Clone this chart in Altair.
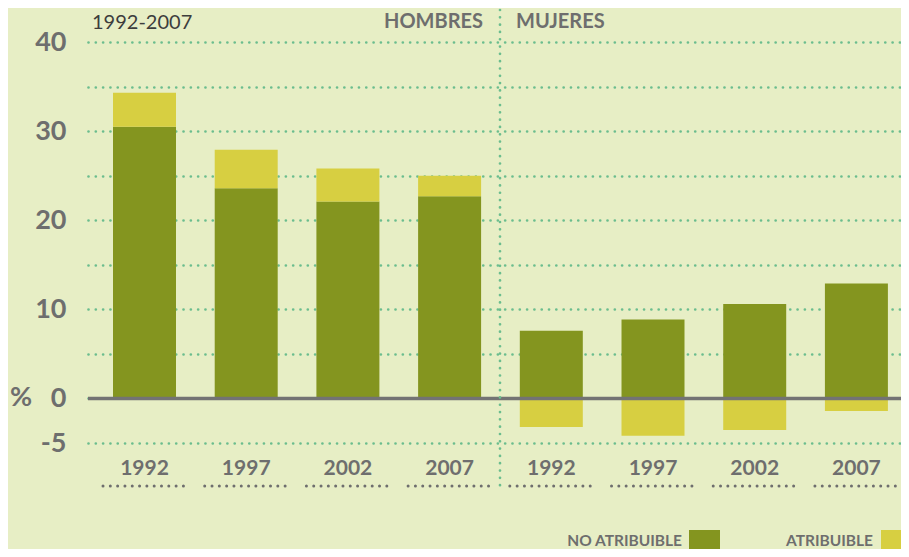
import altair as alt
import pandas as pd

# ---- data ----
groups = ["HOMBRES"] * 4 + ["MUJERES"] * 4
years = ["1992", "1997", "2002", "2007"] * 2
no_atribuible = [30.5, 23.6, 22.1, 22.7, 7.6, 8.85, 10.6, 12.9]
atribuible = [3.8, 4.3, 3.7, 2.3, -3.2, -4.2, -3.55, -1.4]
series = ["NO ATRIBUIBLE", "ATRIBUIBLE"]
y_ticks = [-5, 0, 5, 10, 15, 20, 25, 30, 35, 40]

BG = "#e7eec5"
DARK = "#84951f"
YELLOW = "#d7cf41"
GRID = "#6bbd8e"
GREY = "#6e6e6e"
FONT = "Lato"

keys = [g[0] + y for g, y in zip(groups, years)]
rows = []
for k, g, y, na, a in zip(keys, groups, years, no_atribuible, atribuible):
    rows.append({"key": k, "grupo": g, "anio": y, "serie": series[0], "valor": na, "orden": 0})
    rows.append({"key": k, "grupo": g, "anio": y, "serie": series[1], "valor": a, "orden": 1})
df = pd.DataFrame(rows)
cats = pd.DataFrame({"key": keys})
one = pd.DataFrame({"a": [0]})

W, H = 813, 401

xscale = alt.Scale(domain=keys, paddingInner=0.184, paddingOuter=0.089, align=0.829)
yscale = alt.Scale(domain=[-5, 40], nice=False, zero=False)

xaxis = alt.Axis(labelExpr="substring(datum.value, 1)", labelFont=FONT,
                 labelFontSize=21, labelFontWeight="bold", labelColor=GREY,
                 labelPadding=25, labelBaseline="middle", ticks=False,
                 tickSize=0, domain=False, grid=False, labelAngle=0, title=None)

bars = alt.Chart(df).mark_bar(width=alt.RelativeBandSize(63 / 83)).encode(
    x=alt.X("key:N", scale=xscale, sort=keys, axis=xaxis),
    y=alt.Y("valor:Q", stack="zero", scale=yscale, title=None,
            axis=alt.Axis(values=y_ticks,
                          labelExpr="datum.value == -5 ? '-5' : (datum.value % 10 == 0 ? datum.label : '')",
                          labelFont=FONT, labelFontSize=27, labelFontWeight="bold",
                          labelColor=GREY, labelPadding=22, ticks=False, tickSize=0,
                          domain=False, grid=True, gridColor=GRID, gridWidth=2.7,
                          gridDash=[0.01, 7.3], gridCap="round", gridOpacity=1)),
    color=alt.Color("serie:N", scale=alt.Scale(domain=series, range=[DARK, YELLOW]), legend=None),
    order=alt.Order("orden:Q"),
)

zero = alt.Chart(one).mark_rule(color="#737373", strokeWidth=3.5).encode(
    y=alt.datum(0), x=alt.value(0), x2=alt.value(W))

divider = alt.Chart(one).mark_rule(color=GRID, strokeWidth=2.7, strokeDash=[0.01, 7.3],
                                   strokeCap="round").encode(
    x=alt.value(412), y=alt.value(-32), y2=alt.value(445))

underline = alt.Chart(cats).mark_rule(color=GREY, strokeWidth=3, strokeDash=[0.01, 7.3],
                                      strokeCap="round").encode(
    x=alt.X("key:N", scale=xscale, sort=keys, bandPosition=0, axis=xaxis),
    x2=alt.X2("key", bandPosition=1),
    y=alt.value(444))

pct = alt.Chart(one).mark_text(text="%", font=FONT, fontSize=27, fontWeight="bold",
                               color=GREY, align="left", baseline="middle").encode(
    x=alt.value(-78), y=alt.datum(0))

title = alt.Chart(one).mark_text(text="1992-2007", font=FONT, fontSize=20,
                                 color="#3d3d3d", align="left", baseline="alphabetic").encode(
    x=alt.value(4), y=alt.value(-13))

hombres = alt.Chart(one).mark_text(text="HOMBRES", font=FONT, fontSize=20, fontWeight="bold",
                                   color=GREY, align="right", baseline="alphabetic").encode(
    x=alt.value(395), y=alt.value(-14))
mujeres = alt.Chart(one).mark_text(text="MUJERES", font=FONT, fontSize=20, fontWeight="bold",
                                   color=GREY, align="left", baseline="alphabetic").encode(
    x=alt.value(428), y=alt.value(-14))

leg_txt1 = alt.Chart(one).mark_text(text=series[0], font=FONT, fontSize=15.5, fontWeight="bold",
                                    color=GREY, align="right", baseline="alphabetic").encode(
    x=alt.value(594), y=alt.value(504))
leg_sq1 = alt.Chart(one).mark_rect(color=DARK).encode(
    x=alt.value(601), x2=alt.value(632), y=alt.value(488), y2=alt.value(519))
leg_txt2 = alt.Chart(one).mark_text(text=series[1], font=FONT, fontSize=15.5, fontWeight="bold",
                                    color=GREY, align="right", baseline="alphabetic").encode(
    x=alt.value(785), y=alt.value(504))
leg_sq2 = alt.Chart(one).mark_rect(color=YELLOW).encode(
    x=alt.value(793), x2=alt.value(824), y=alt.value(488), y2=alt.value(519))

chart = alt.layer(
    bars, zero, divider, underline, pct, title, hombres, mujeres,
    leg_txt1, leg_sq1, leg_txt2, leg_sq2
).properties(
    width=W, height=H, autosize=alt.AutoSizeParams(type="none"),
    padding={"left": 80, "top": 34, "right": 0, "bottom": 106},
    background=BG,
).configure_view(stroke=None)

chart.save("out.html", embed_options={"renderer": "svg", "actions": False})
